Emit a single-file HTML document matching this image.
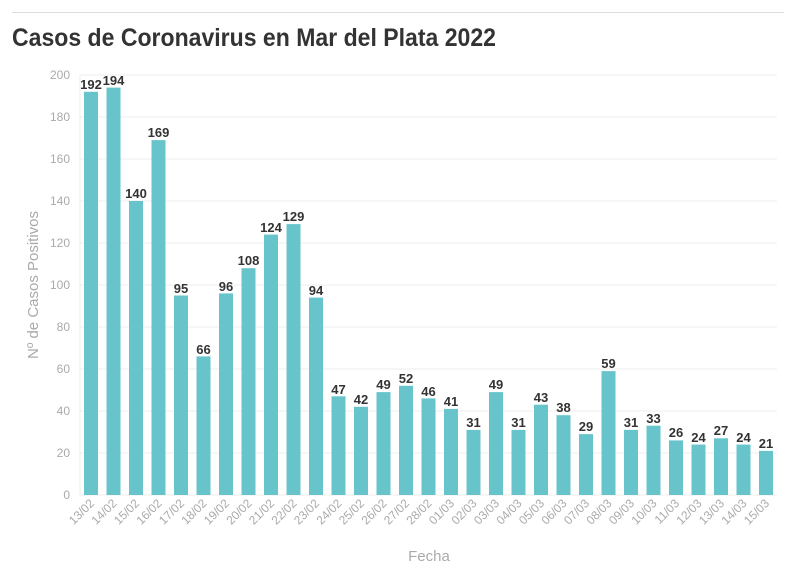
<!DOCTYPE html>
<html><head><meta charset="utf-8"><style>
html,body{margin:0;padding:0;background:#fff;}
svg{display:block;font-family:"Liberation Sans",sans-serif;}
.yt{font-size:12px;fill:#aaa;text-anchor:end;}
.xt{font-size:12px;fill:#aaa;text-anchor:end;}
.v{font-size:13px;font-weight:bold;fill:#333;text-anchor:middle;}
.b{fill:#67c4cb;}
</style></head><body>
<svg width="796" height="575" viewBox="0 0 796 575">
<line x1="12" y1="12.5" x2="784" y2="12.5" stroke="#ddd" stroke-width="1"/>
<text x="12" y="46" font-size="25" font-weight="bold" fill="#333" textLength="484" lengthAdjust="spacingAndGlyphs">Casos de Coronavirus en Mar del Plata 2022</text>
<g stroke="#eee" stroke-width="1">
<line x1="80" y1="75" x2="777" y2="75"/><line x1="80" y1="117" x2="777" y2="117"/><line x1="80" y1="159" x2="777" y2="159"/><line x1="80" y1="201" x2="777" y2="201"/><line x1="80" y1="243" x2="777" y2="243"/><line x1="80" y1="285" x2="777" y2="285"/><line x1="80" y1="327" x2="777" y2="327"/><line x1="80" y1="369" x2="777" y2="369"/><line x1="80" y1="411" x2="777" y2="411"/><line x1="80" y1="453" x2="777" y2="453"/><line x1="80" y1="495" x2="777" y2="495"/>
<line x1="80" y1="75" x2="80" y2="495"/>
</g>
<g class="yt">
<text x="70" y="79">200</text><text x="70" y="121">180</text><text x="70" y="163">160</text><text x="70" y="205">140</text><text x="70" y="247">120</text><text x="70" y="289">100</text><text x="70" y="331">80</text><text x="70" y="373">60</text><text x="70" y="415">40</text><text x="70" y="457">20</text><text x="70" y="499">0</text>
</g>
<text transform="translate(38,285) rotate(-90)" font-size="15" fill="#aaa" text-anchor="middle">Nº de Casos Positivos</text>
<text x="429" y="561" font-size="15" fill="#aaa" text-anchor="middle">Fecha</text>
<g class="b">
<rect x="84" y="91.8" width="14" height="403.2"/><rect x="106.5" y="87.6" width="14" height="407.4"/><rect x="129" y="201" width="14" height="294"/><rect x="151.5" y="140.1" width="14" height="354.9"/><rect x="174" y="295.5" width="14" height="199.5"/><rect x="196.5" y="356.4" width="14" height="138.6"/><rect x="219" y="293.4" width="14" height="201.6"/><rect x="241.5" y="268.2" width="14" height="226.8"/><rect x="264" y="234.6" width="14" height="260.4"/><rect x="286.5" y="224.1" width="14" height="270.9"/><rect x="309" y="297.6" width="14" height="197.4"/><rect x="331.5" y="396.3" width="14" height="98.7"/><rect x="354" y="406.8" width="14" height="88.2"/><rect x="376.5" y="392.1" width="14" height="102.9"/><rect x="399" y="385.8" width="14" height="109.2"/><rect x="421.5" y="398.4" width="14" height="96.6"/><rect x="444" y="408.9" width="14" height="86.1"/><rect x="466.5" y="429.9" width="14" height="65.1"/><rect x="489" y="392.1" width="14" height="102.9"/><rect x="511.5" y="429.9" width="14" height="65.1"/><rect x="534" y="404.7" width="14" height="90.3"/><rect x="556.5" y="415.2" width="14" height="79.8"/><rect x="579" y="434.1" width="14" height="60.9"/><rect x="601.5" y="371.1" width="14" height="123.9"/><rect x="624" y="429.9" width="14" height="65.1"/><rect x="646.5" y="425.7" width="14" height="69.3"/><rect x="669" y="440.4" width="14" height="54.6"/><rect x="691.5" y="444.6" width="14" height="50.4"/><rect x="714" y="438.3" width="14" height="56.7"/><rect x="736.5" y="444.6" width="14" height="50.4"/><rect x="759" y="450.9" width="14" height="44.1"/>
</g>
<g class="v">
<text x="91" y="89">192</text><text x="113.5" y="85">194</text><text x="136" y="198">140</text><text x="158.5" y="137">169</text><text x="181" y="293">95</text><text x="203.5" y="354">66</text><text x="226" y="291">96</text><text x="248.5" y="265">108</text><text x="271" y="232">124</text><text x="293.5" y="221">129</text><text x="316" y="295">94</text><text x="338.5" y="394">47</text><text x="361" y="404">42</text><text x="383.5" y="389">49</text><text x="406" y="383">52</text><text x="428.5" y="396">46</text><text x="451" y="406">41</text><text x="473.5" y="427">31</text><text x="496" y="389">49</text><text x="518.5" y="427">31</text><text x="541" y="402">43</text><text x="563.5" y="412">38</text><text x="586" y="431">29</text><text x="608.5" y="368">59</text><text x="631" y="427">31</text><text x="653.5" y="423">33</text><text x="676" y="437">26</text><text x="698.5" y="442">24</text><text x="721" y="435">27</text><text x="743.5" y="442">24</text><text x="766" y="448">21</text>
</g>
<g class="xt">
<text transform="translate(95,504) rotate(-45)">13/02</text><text transform="translate(117.5,504) rotate(-45)">14/02</text><text transform="translate(140,504) rotate(-45)">15/02</text><text transform="translate(162.5,504) rotate(-45)">16/02</text><text transform="translate(185,504) rotate(-45)">17/02</text><text transform="translate(207.5,504) rotate(-45)">18/02</text><text transform="translate(230,504) rotate(-45)">19/02</text><text transform="translate(252.5,504) rotate(-45)">20/02</text><text transform="translate(275,504) rotate(-45)">21/02</text><text transform="translate(297.5,504) rotate(-45)">22/02</text><text transform="translate(320,504) rotate(-45)">23/02</text><text transform="translate(342.5,504) rotate(-45)">24/02</text><text transform="translate(365,504) rotate(-45)">25/02</text><text transform="translate(387.5,504) rotate(-45)">26/02</text><text transform="translate(410,504) rotate(-45)">27/02</text><text transform="translate(432.5,504) rotate(-45)">28/02</text><text transform="translate(455,504) rotate(-45)">01/03</text><text transform="translate(477.5,504) rotate(-45)">02/03</text><text transform="translate(500,504) rotate(-45)">03/03</text><text transform="translate(522.5,504) rotate(-45)">04/03</text><text transform="translate(545,504) rotate(-45)">05/03</text><text transform="translate(567.5,504) rotate(-45)">06/03</text><text transform="translate(590,504) rotate(-45)">07/03</text><text transform="translate(612.5,504) rotate(-45)">08/03</text><text transform="translate(635,504) rotate(-45)">09/03</text><text transform="translate(657.5,504) rotate(-45)">10/03</text><text transform="translate(680,504) rotate(-45)">11/03</text><text transform="translate(702.5,504) rotate(-45)">12/03</text><text transform="translate(725,504) rotate(-45)">13/03</text><text transform="translate(747.5,504) rotate(-45)">14/03</text><text transform="translate(770,504) rotate(-45)">15/03</text>
</g>
</svg>
</body></html>
